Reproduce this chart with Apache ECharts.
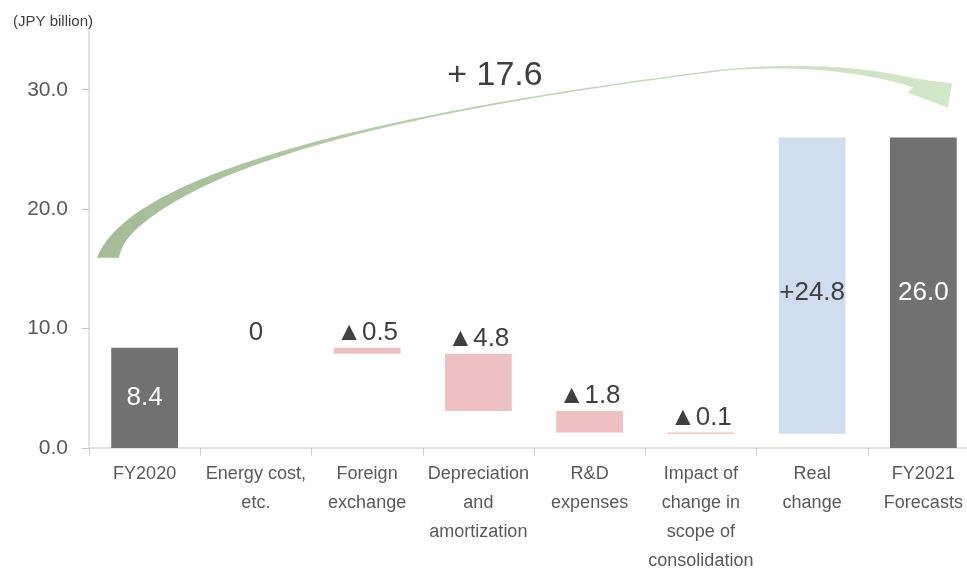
<!DOCTYPE html>
<html><head><meta charset="utf-8">
<script src="https://cdn.jsdelivr.net/npm/echarts@6/dist/echarts.min.js"></script>
<style>html,body{margin:0;padding:0;background:#fff}#c{width:967px;height:570px}</style>
</head><body><div id="c"></div>
<script>
// ---- data ----
const categories = ['FY2020', 'Energy cost,\netc.', 'Foreign\nexchange', 'Depreciation\nand\namortization',
  'R&D\nexpenses', 'Impact of\nchange in\nscope of\nconsolidation', 'Real\nchange', 'FY2021\nForecasts'];
const changes = [8.4, 0, -0.5, -4.8, -1.8, -0.1, 24.8, 26.0];
const isTotal = [true, false, false, false, false, false, false, true];
const valueLabels = ['8.4', '0', '▲0.5', '▲4.8', '▲1.8', '▲0.1', '+24.8', '26.0'];
const yTicks = [0, 10, 20, 30];
const yUnit = '(JPY billion)';
const totalChangeLabel = '+ 17.6';
// arrow annotation geometry (in data units: x = category index, y = JPY billion)
const arrowOuterA = [[-0.428, 15.93], [-0.131, 23.30], [2.295, 28.33], [5.172, 31.68]];
const arrowOuterB = [[5.172, 31.68], [5.891, 32.36], [6.520, 31.85], [6.925, 30.93]];
const arrowHead = [[7.257, 30.51], [7.221, 28.50], [6.862, 29.76]];
const arrowLabelAt = [3.149, 31.16];

// ---- waterfall computation ----
const base = [], height = [];
let running = 0;
changes.forEach((v, i) => {
  if (isTotal[i]) { base.push(0); height.push(v); running = v; }
  else if (v >= 0) { base.push(+running.toFixed(2)); height.push(v); running += v; }
  else { running += v; base.push(+running.toFixed(2)); height.push(-v); }
});

const C_TOTAL = '#717171', C_NEG = '#eec0c1', C_POS = '#d0ddef', C_TEXT = '#404040';
const FONT = '"Liberation Sans", Arial, "DejaVu Sans", sans-serif';

const barData = height.map((h, i) => {
  const v = changes[i];
  let color, label;
  if (isTotal[i]) {
    color = C_TOTAL;
    label = { position: 'inside', color: '#ffffff' };
  } else if (v > 0) {
    color = C_POS;
    label = { position: 'inside', color: C_TEXT, offset: [0, 7] };
  } else {
    color = C_NEG;
    label = { position: 'top', color: C_TEXT, distance: 2 };
  }
  return { value: h, itemStyle: { color }, label };
});

function cubic(p, t) {
  const u = 1 - t;
  return [0, 1].map(k => u * u * u * p[0][k] + 3 * u * u * t * p[1][k] + 3 * u * t * t * p[2][k] + t * t * t * p[3][k]);
}
function dcubic(p, t) {
  const u = 1 - t;
  return [0, 1].map(k => 3 * u * u * (p[1][k] - p[0][k]) + 6 * u * t * (p[2][k] - p[1][k]) + 3 * t * t * (p[3][k] - p[2][k]));
}

function renderArrow(params, api) {
  const A = arrowOuterA.map(p => api.coord(p));
  const B = arrowOuterB.map(p => api.coord(p));
  const H = arrowHead.map(p => api.coord(p));
  const outer = [], inner = [];
  const N = 60;
  for (let i = 0; i <= N; i++) {
    const t = i / N;
    const p = cubic(A, t), d = dcubic(A, t);
    const len = Math.hypot(d[0], d[1]) || 1;
    const n = [-d[1] / len, d[0] / len];
    const w = 1.5 + 20.5 * Math.pow(1 - t, 3);
    const k = Math.min(1, t / 0.3);
    let dir = [(1 - k) + k * n[0], k * n[1]];
    const dl = Math.hypot(dir[0], dir[1]) || 1;
    dir = [dir[0] / dl, dir[1] / dl];
    outer.push(p);
    inner.push([p[0] + dir[0] * w, p[1] + dir[1] * w]);
  }
  for (let i = 1; i <= N; i++) {
    const t = i / N;
    const p = cubic(B, t), d = dcubic(B, t);
    const len = Math.hypot(d[0], d[1]) || 1;
    const n = [-d[1] / len, d[0] / len];
    const w = 1.5 + 7.5 * Math.pow(t, 1.5);
    outer.push(p);
    inner.push([p[0] + n[0] * w, p[1] + n[1] * w]);
  }
  const pts = outer.concat(H, inner.reverse());
  const lp = api.coord(arrowLabelAt);
  return {
    type: 'group',
    children: [
      {
        type: 'polygon', shape: { points: pts },
        style: {
          fill: new echarts.graphic.LinearGradient(0, 0, 1, 0, [
            { offset: 0, color: '#a4bc96' },
            { offset: 0.5, color: '#bed5b2' },
            { offset: 1, color: '#d3e8ca' }
          ])
        }
      },
      {
        type: 'text', x: lp[0], y: lp[1],
        style: { text: totalChangeLabel, fontSize: 34, fontFamily: FONT, fill: C_TEXT, align: 'center', verticalAlign: 'middle' }
      }
    ]
  };
}

const chart = echarts.init(document.getElementById('c'), null, { renderer: 'canvas' });
chart.setOption({
  animation: false,
  backgroundColor: '#ffffff',
  title: {
    text: yUnit, left: 8, top: 9,
    textStyle: { fontSize: 15, fontWeight: 'normal', color: C_TEXT, fontFamily: FONT }
  },
  grid: { left: 89, top: 30, width: 890, height: 418, containLabel: false, outerBoundsMode: 'none' },
  xAxis: [
    {
      type: 'category', data: categories,
      axisLine: { lineStyle: { color: '#d9d9d9', width: 1.5 } },
      axisTick: { show: true, length: 8, lineStyle: { color: '#cfcfcf' } },
      axisLabel: { interval: 0, fontSize: 18, lineHeight: 29, color: '#595959', margin: 12, fontFamily: FONT }
    },
    { type: 'value', min: -0.5, max: 7.5, show: false }
  ],
  yAxis: {
    type: 'value', min: 0, max: 35, interval: 10,
    splitLine: { show: false },
    axisLine: { show: true, onZero: false, lineStyle: { color: '#d9d9d9', width: 1.5 } },
    axisTick: { show: true, length: 7, customValues: yTicks, lineStyle: { color: '#bfbfbf' } },
    axisLabel: {
      customValues: yTicks, fontSize: 21, color: '#595959', margin: 21, fontFamily: FONT,
      formatter: v => v.toFixed(1)
    }
  },
  series: [
    {
      type: 'bar', stack: 'w', data: base, barWidth: '60%', silent: true,
      itemStyle: { color: 'transparent' }, label: { show: false }
    },
    {
      type: 'bar', stack: 'w', data: barData, barWidth: '60%',
      label: {
        show: true, fontSize: 26, fontFamily: FONT,
        formatter: p => valueLabels[p.dataIndex]
      }
    },
    {
      type: 'custom', xAxisIndex: 1, yAxisIndex: 0, data: [[0, 0]],
      renderItem: renderArrow, silent: true, clip: false, z: 1
    }
  ]
});
</script>
</body></html>
